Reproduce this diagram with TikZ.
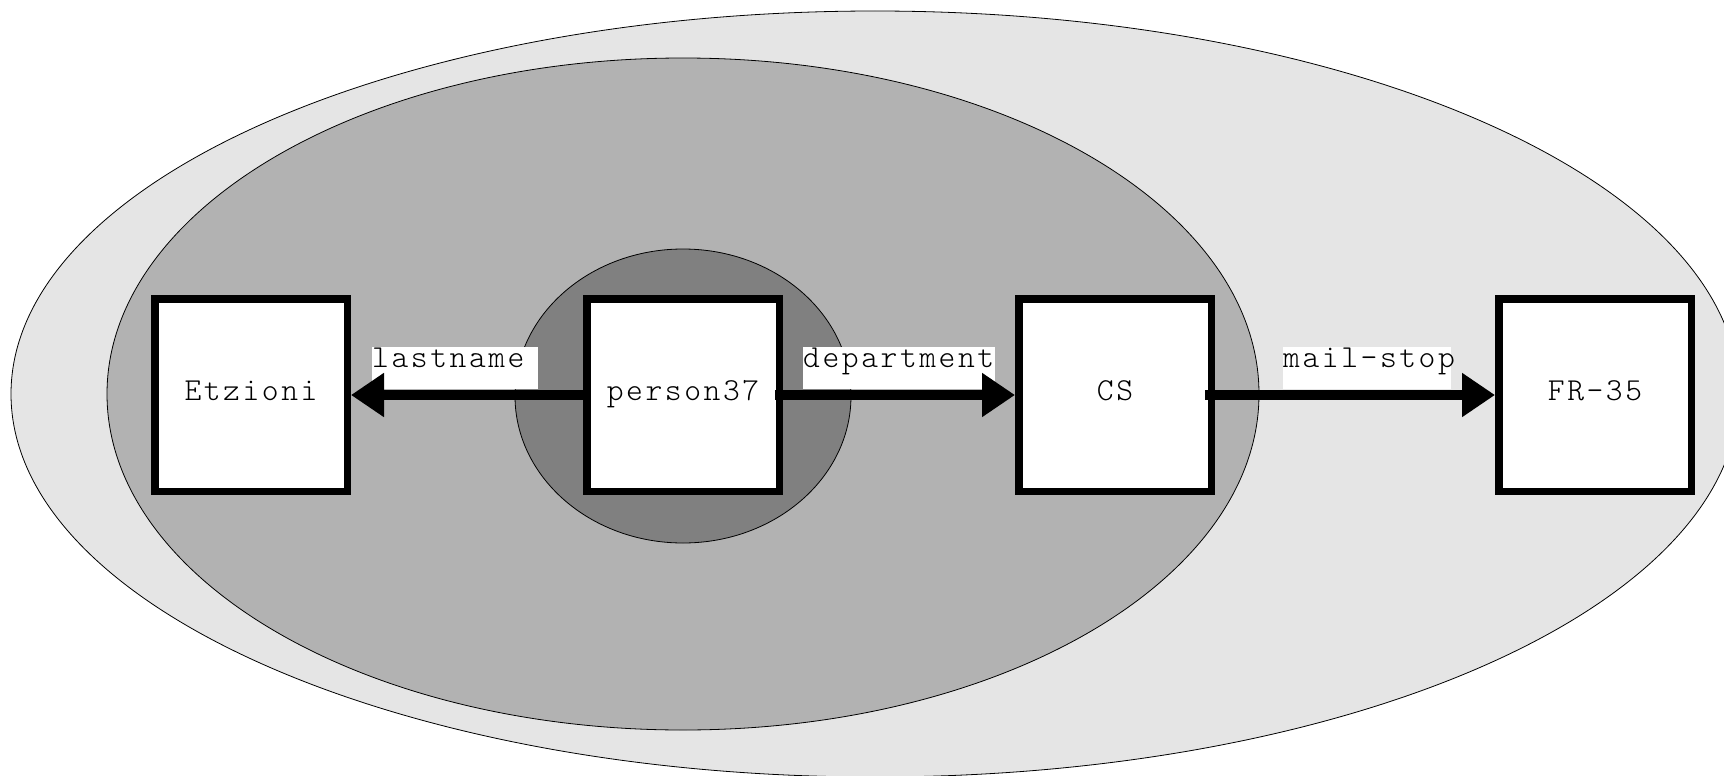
\documentclass[tikz,border=0pt]{standalone}
\usepackage{fontspec}
\setmonofont{Latin Modern Mono Light}[LetterSpace=8]
\usetikzlibrary{arrows.meta,positioning}

\begin{document}
\begin{tikzpicture}[
	x=1pt, y=-1pt,
	font=\ttfamily\fontsize{32}{36}\selectfont,
	node distance=232pt,
	obj/.style={draw, line width=7.5pt, fill=white, minimum size=192.5pt, inner sep=0pt, text height=18pt, text depth=8pt},
	lbl/.style={fill=white, inner sep=0pt, anchor=north west, align=left, text height=20pt, text depth=22pt},
	ln/.style={line width=10pt, -{Triangle[length=33pt, width=42pt]}},
	set/.style={draw=black, line width=0.8pt},
	]
\clip (0,0) rectangle (1724,776);
% nested sets
\path [set, fill=black!10] (875,394) ellipse [x radius=864pt, y radius=383pt];
\path [set, fill=black!30] (683,394) ellipse [x radius=576pt, y radius=336pt];
\path [set, fill=black!50] (683,396) ellipse [x radius=168pt, y radius=147pt];
% objects
\node [obj] (person37) at (683,395) {person37};
\node [obj, left=of person37] (etzioni) {Etzioni};
\node [obj, right=of person37] (cs) {CS};
\node [obj, right=280pt of cs] (fr35) {FR-35};
% attribute names
\node [lbl, text width=166pt] (lastname) at ([xshift=21pt, yshift=48pt]etzioni.east) {lastname};
\node [lbl, text width=192pt] (department) at ([xshift=20pt, yshift=48pt]person37.east) {department};
\node [lbl, text width=168pt] (mailstop) at ([xshift=68pt, yshift=48pt]cs.east) {mail-stop};
% attributes
\draw [ln] (person37.west) -- (etzioni.east);
\draw [ln] ([xshift=-8pt]person37.east) -- (cs.west);
\draw [ln] ([xshift=-10pt]cs.east) -- (fr35.west);
\end{tikzpicture}
\end{document}
